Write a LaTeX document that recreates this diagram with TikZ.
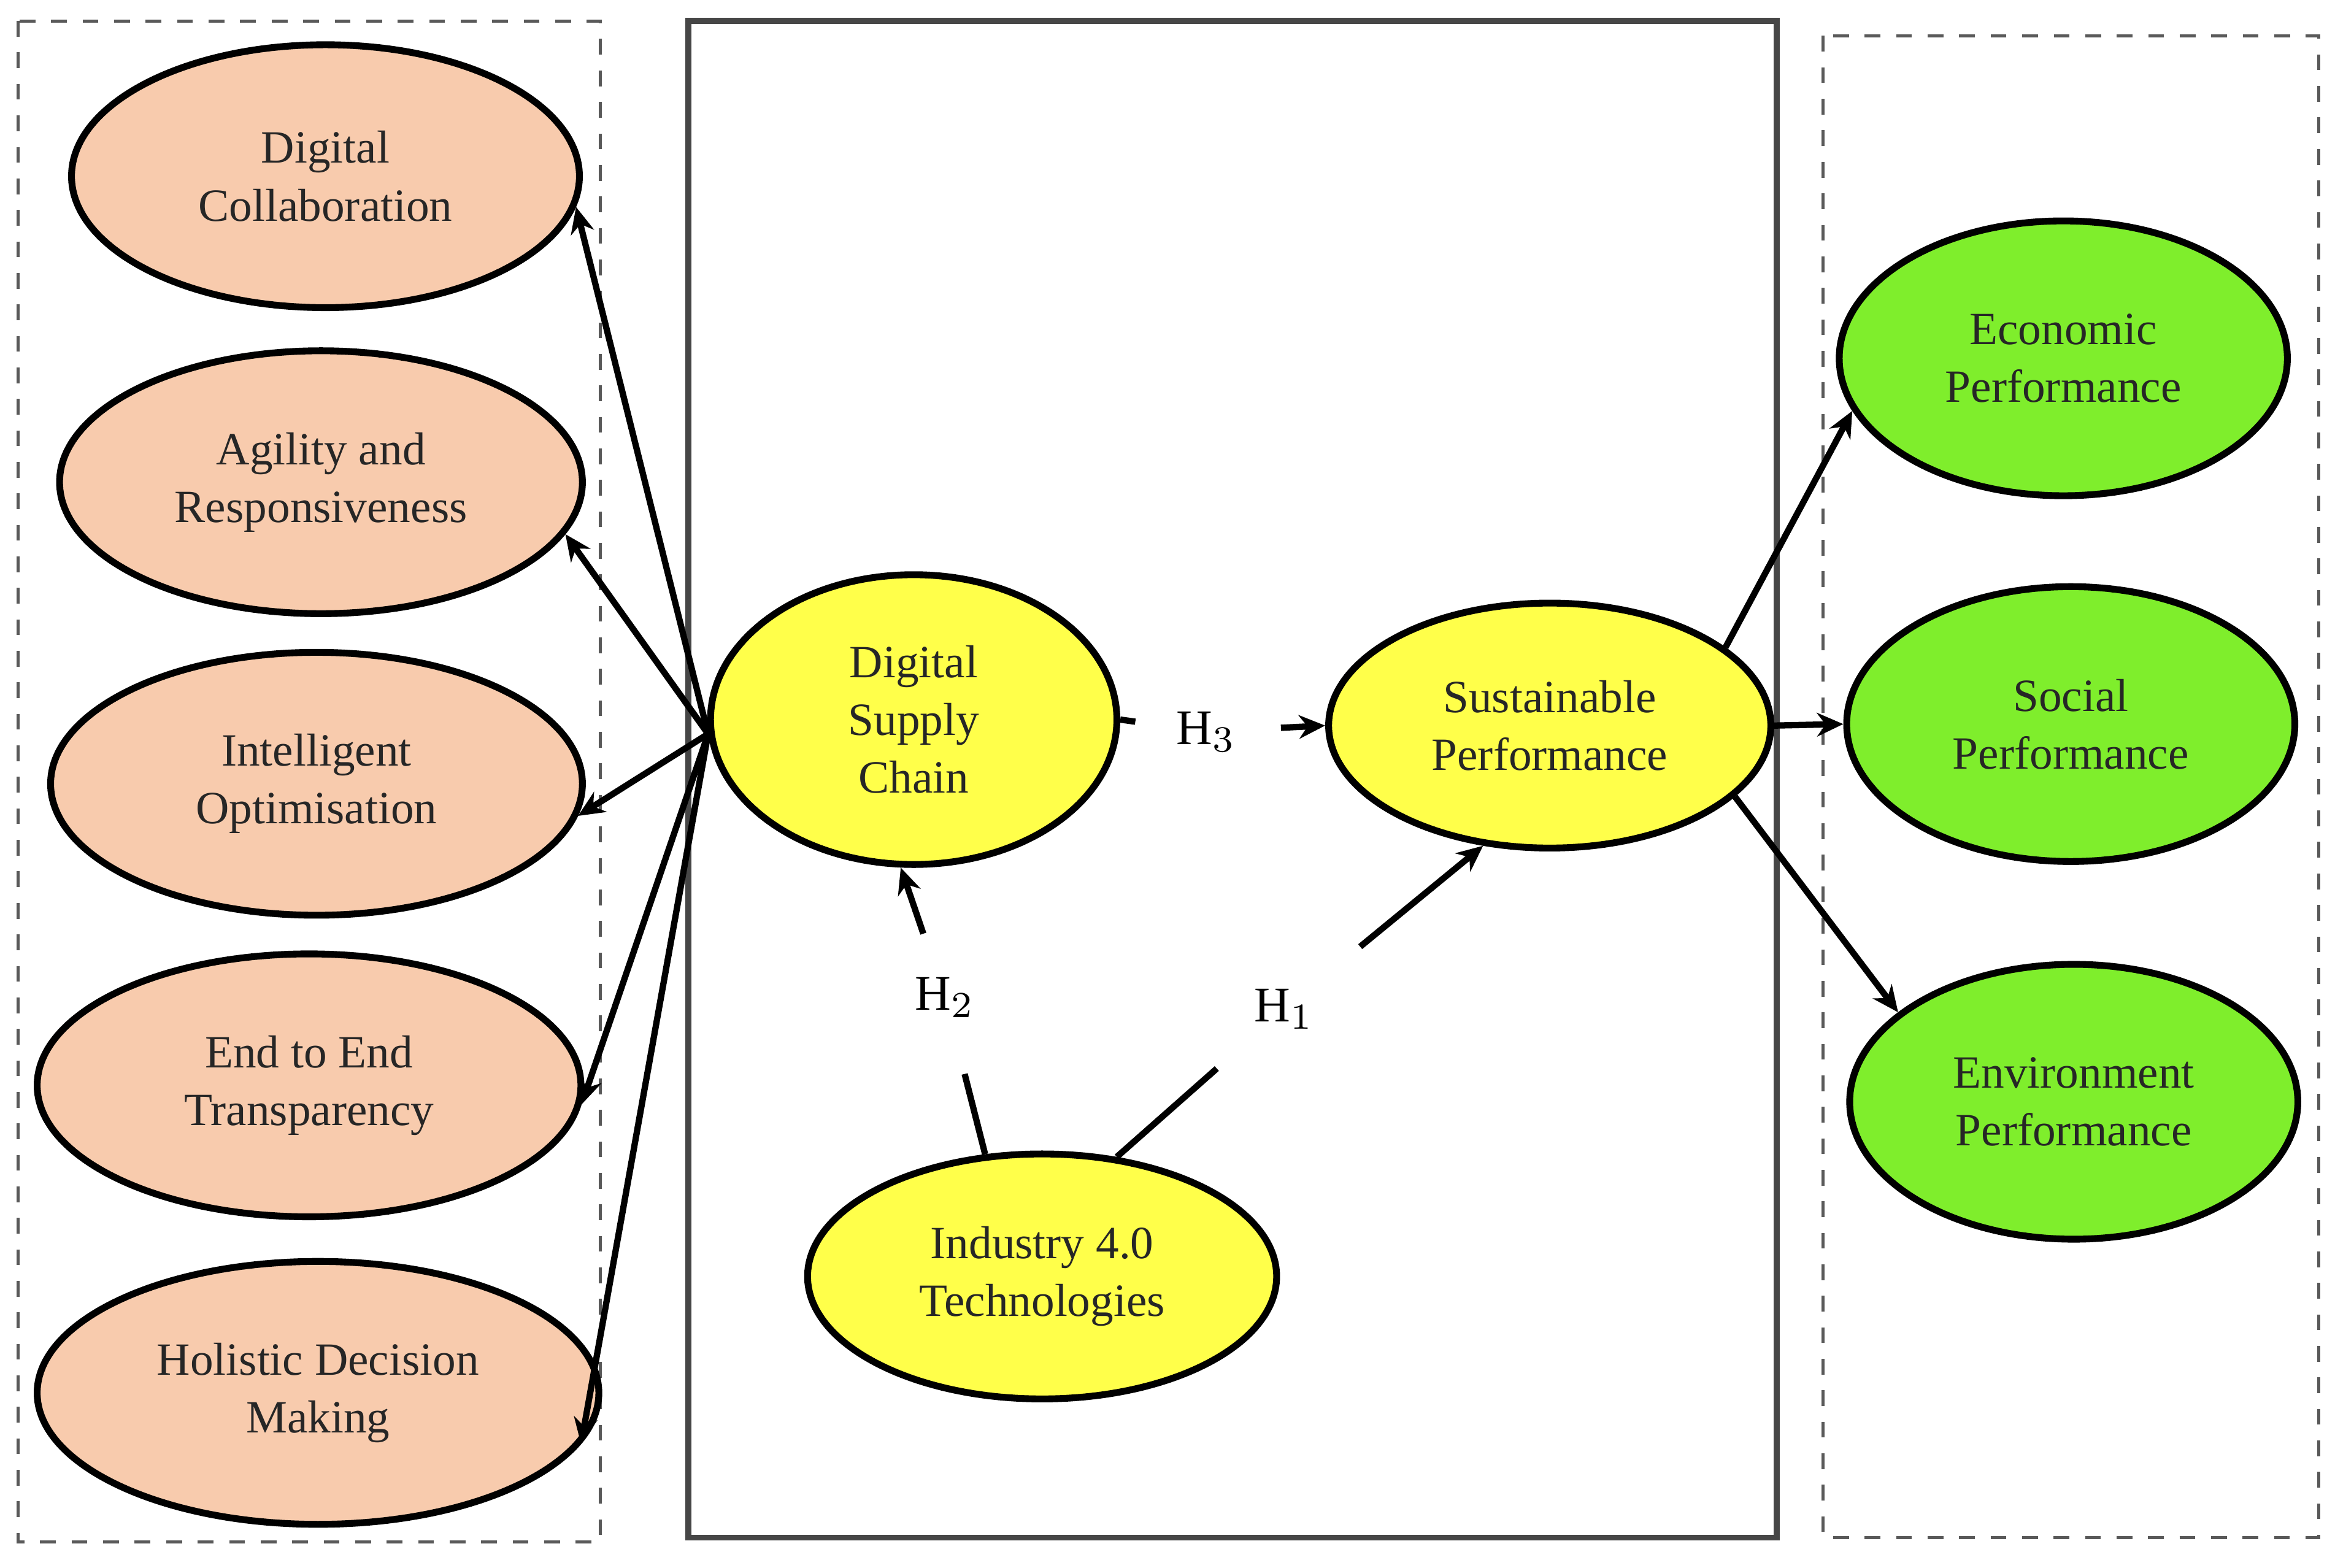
\documentclass[tikz,border=0pt]{standalone}
\usepackage{fontspec}
\setmainfont{Liberation Serif}
\usetikzlibrary{shapes.geometric,arrows.meta}
\definecolor{peach}{HTML}{F8CBAD}
\definecolor{yel}{HTML}{FFFF4A}
\definecolor{grn}{HTML}{7FEE2C}
\begin{document}
\begin{tikzpicture}[x=0.01cm,y=-0.01cm,
  el/.style={ellipse,draw=black,line width=1.3pt,align=center,inner sep=0pt,font=\fontsize{8.8}{11}\selectfont,text=black!85},
  pe/.style={el,fill=peach},
  ye/.style={el,fill=yel},
  ge/.style={el,fill=grn},
  ar/.style={line width=1.2pt,-{Stealth[length=5pt,width=4.5pt]}},
  ln/.style={line width=1.2pt},
  lab/.style={font=\fontsize{9.5}{12}\selectfont,inner sep=1pt}]
\useasboundingbox (0,0) rectangle (1564,1050);
\draw[dashed,gray!70!black,line width=0.6pt] (12,14) rectangle (402,1033);
\draw[gray!55!black,line width=1.1pt] (461,14) rectangle (1190,1030);
\draw[dashed,gray!70!black,line width=0.6pt] (1221,24) rectangle (1553,1030);
\node[pe,minimum width=3.40cm,minimum height=1.76cm] (dc) at (218,118) {Digital\\Collaboration};
\node[pe,minimum width=3.50cm,minimum height=1.76cm] (ag) at (215,323) {Agility and\\Responsiveness};
\node[pe,minimum width=3.56cm,minimum height=1.76cm] (io) at (212,525) {Intelligent\\Optimisation};
\node[pe,minimum width=3.64cm,minimum height=1.76cm] (ee) at (207,727) {End to End\\Transparency};
\node[pe,minimum width=3.76cm,minimum height=1.76cm] (hd) at (213,933) {Holistic Decision\\Making};
\node[ye,minimum width=2.72cm,minimum height=1.94cm] (dsc) at (612,482) {Digital\\Supply\\Chain};
\node[ye,minimum width=2.96cm,minimum height=1.64cm] (sp) at (1038,486) {Sustainable\\Performance};
\node[ye,minimum width=3.14cm,minimum height=1.64cm] (ind) at (698,855) {Industry 4.0\\Technologies};
\node[ge,minimum width=3.00cm,minimum height=1.84cm] (ep) at (1382,240) {Economic\\Performance};
\node[ge,minimum width=3.00cm,minimum height=1.84cm] (so) at (1387,485) {Social\\Performance};
\node[ge,minimum width=3.00cm,minimum height=1.84cm] (en) at (1389,738) {Environment\\Performance};
\node[lab] (h3) at (808,490) {H$_3$};
\node[lab] (h2) at (633,668) {H$_2$};
\node[lab] (h1) at (860,676) {H$_1$};
\draw[ar] (dsc.184) -- (dc.-7);
\draw[ar] (dsc.184) -- (ag.-12);
\draw[ar] (dsc.184) -- (io.-7);
\draw[ar] (dsc.184) -- (ee.-4);
\draw[ar] (dsc.184) -- (hd.-11);
\draw[ln,shorten >=0.48cm] (dsc.east) -- (h3.center);
\draw[ar,shorten <=0.5cm] (h3.center) -- (sp.west);
\draw[ln,shorten >=0.53cm] (ind.115) -- (h2.center);
\draw[ar,shorten <=0.45cm] (h2.center) -- (dsc.265);
\draw[ln,shorten >=0.6cm] (ind.58) -- (h1.center);
\draw[ar,shorten <=0.66cm] (h1.center) -- (sp.241);
\draw[ar] (sp.24) -- (ep.194);
\draw[ar] (sp.east) -- (so.west);
\draw[ar] (sp.-21) -- (en.153);
\end{tikzpicture}
\end{document}
